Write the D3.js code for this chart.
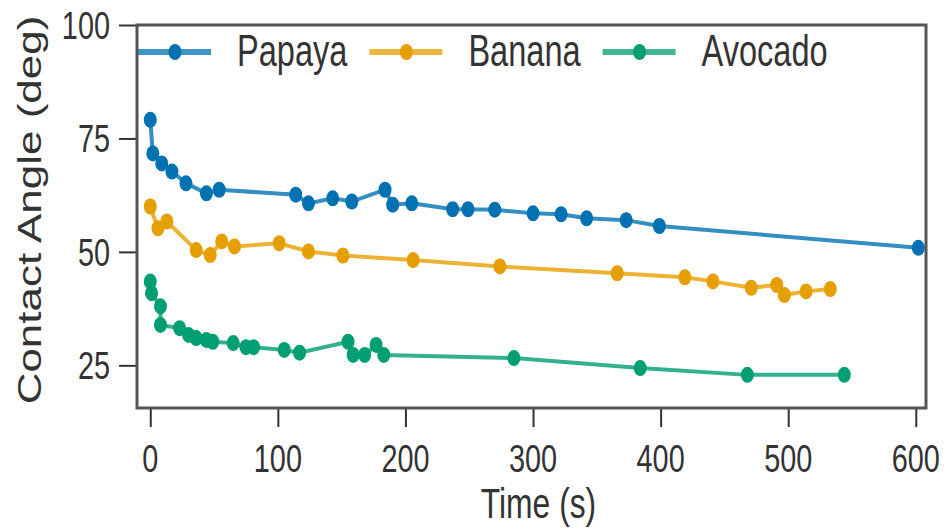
<!doctype html>
<html lang="en">
<head>
    <meta charset="UTF-8">
    <title>Contact Angle</title>
    <script src="https://cdnjs.cloudflare.com/ajax/libs/d3/7.8.5/d3.min.js"></script>
    <style>
        body { margin: 0; background: #fff; }
        svg text { font-family: "Liberation Sans", Arial, sans-serif; fill: #333; }
    </style>
</head>
<body>
<svg id="chart" width="946" height="529"></svg>

<script>
    // data
    var seriesNames = ['Papaya', 'Banana', 'Avocado'];
    var seriesColors = ['#0072B2', '#E69F00', '#009E73'];

    var papayaTime  = [0, 2, 9, 17, 28, 44, 54, 114, 124, 143, 158, 184, 190, 205, 237, 249, 270, 300, 322, 342, 373, 399, 602];
    var papayaAngle = [79.1, 71.7, 69.5, 67.7, 65.1, 62.9, 63.7, 62.6, 60.7, 61.8, 61.1, 63.7, 60.4, 60.7, 59.4, 59.4, 59.3, 58.5, 58.3, 57.4, 57.0, 55.7, 50.9];

    var bananaTime  = [0, 6, 13, 36, 47, 56, 66, 101, 124, 151, 206, 274, 366, 419, 441, 471, 491, 497, 514, 533];
    var bananaAngle = [60.0, 55.2, 56.7, 50.4, 49.3, 52.3, 51.2, 51.9, 50.1, 49.2, 48.2, 46.8, 45.3, 44.4, 43.5, 42.1, 42.7, 40.5, 41.3, 41.8];

    var avocadoTime  = [0, 1, 8, 8, 23, 30, 36, 44, 49, 65, 75, 81, 105, 117, 155, 159, 168, 177, 183, 285, 384, 468, 544];
    var avocadoAngle = [43.5, 40.9, 38.0, 33.9, 33.2, 31.7, 31.0, 30.6, 30.2, 29.9, 29.0, 29.0, 28.4, 27.8, 30.2, 27.3, 27.3, 29.5, 27.3, 26.6, 24.4, 22.9, 22.9];

    var xTicks = [0, 100, 200, 300, 400, 500, 600];
    var yTicks = [25, 50, 75, 100];

    var seriesTimes = [papayaTime, bananaTime, avocadoTime];
    var seriesAngles = [papayaAngle, bananaAngle, avocadoAngle];

    var squeeze = 0.74; // the original text is horizontally narrow

    var svg = d3.select('#chart');
    var plotLeft = 137, plotRight = 926, plotTop = 25, plotBottom = 408;

    var x = d3.scaleLinear().domain([-10.4, 608]).range([plotLeft, plotRight]);
    var y = d3.scaleLinear().domain([15.6, 100]).range([plotBottom, plotTop]);

    function squeezedText(g, px, py, str, size, anchor, rot) {
        var t = g.append('text')
            .attr('transform', 'translate(' + px + ',' + py + ') scale(' + squeeze + ',1)' + (rot ? ' rotate(' + rot + ')' : ''))
            .attr('font-size', size)
            .attr('text-anchor', anchor || 'start')
            .text(str);
        return t;
    }

    // axes
    var xAxis = svg.append('g')
        .attr('transform', 'translate(0,' + plotBottom + ')')
        .call(d3.axisBottom(x).tickValues(xTicks).tickSize(19).tickFormat(''));
    xAxis.select('.domain').remove();
    xAxis.selectAll('.tick line').attr('stroke', '#333').attr('stroke-width', 2);

    var yAxis = svg.append('g')
        .attr('transform', 'translate(' + plotLeft + ',0)')
        .call(d3.axisLeft(y).tickValues(yTicks).tickSize(18).tickFormat(''));
    yAxis.select('.domain').remove();
    yAxis.selectAll('.tick line').attr('stroke', '#333').attr('stroke-width', 2);

    xTicks.forEach(function (v) {
        squeezedText(svg, x(v), 472, String(v), 39, 'middle');
    });
    yTicks.forEach(function (v) {
        squeezedText(svg, 110, y(v) + 14, String(v), 39, 'end');
    });

    squeezedText(svg, (plotLeft + plotRight) / 2 + 7, 518, 'Time (s)', 43, 'middle');
    squeezedText(svg, 41, 210, 'Contact Angle (deg)', 44, 'middle', -90);

    // lines and markers
    var line = d3.line()
        .x(function (d) { return x(d[0]); })
        .y(function (d) { return y(d[1]); });

    seriesNames.forEach(function (name, i) {
        var pts = seriesTimes[i].map(function (t, k) { return [t, seriesAngles[i][k]]; });
        var g = svg.append('g');
        g.append('path')
            .attr('d', line(pts))
            .attr('fill', 'none')
            .attr('stroke', seriesColors[i])
            .attr('stroke-opacity', 0.8)
            .attr('stroke-width', 4);
        g.selectAll('ellipse')
            .data(pts)
            .enter()
            .append('ellipse')
            .attr('cx', function (d) { return x(d[0]); })
            .attr('cy', function (d) { return y(d[1]); })
            .attr('rx', 6.5)
            .attr('ry', 8)
            .attr('fill', seriesColors[i]);
    });

    // frame
    svg.append('rect')
        .attr('x', plotLeft)
        .attr('y', plotTop)
        .attr('width', plotRight - plotLeft)
        .attr('height', plotBottom - plotTop)
        .attr('fill', 'none')
        .attr('stroke', '#555')
        .attr('stroke-width', 3);

    // legend
    var lx = plotLeft + 1, ly = 52;
    seriesNames.forEach(function (name, i) {
        var lg = svg.append('g');
        lg.append('line')
            .attr('x1', lx).attr('x2', lx + 73)
            .attr('y1', ly).attr('y2', ly)
            .attr('stroke', seriesColors[i])
            .attr('stroke-opacity', 0.75)
            .attr('stroke-width', 6);
        lg.append('ellipse')
            .attr('cx', lx + 37).attr('cy', ly)
            .attr('rx', 6.5).attr('ry', 8)
            .attr('fill', seriesColors[i]);
        var t = squeezedText(lg, lx + 99, ly + 14, name, 44, 'start');
        lx = lx + 99 + t.node().getComputedTextLength() * squeeze + 22;
    });
</script>
</body>
</html>
